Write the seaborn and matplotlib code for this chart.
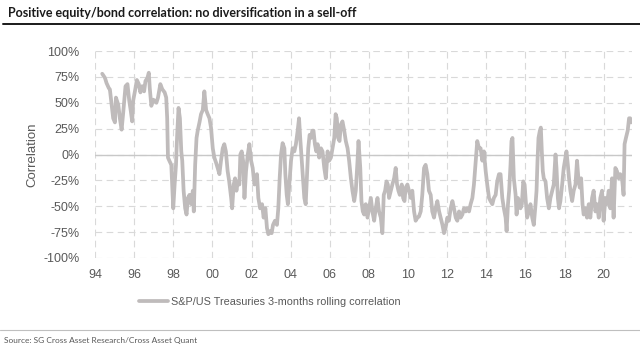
import seaborn as sns
import matplotlib.pyplot as plt
from matplotlib.lines import Line2D
from matplotlib.ticker import FuncFormatter
import numpy as np
import pandas as pd

# S&P / US Treasuries 3-month rolling correlation (%)
years_94_00 = [1994.37, 1994.51, 1994.59, 1994.71, 1994.76, 1994.85, 1994.93, 1995.02, 1995.07, 1995.19,
               1995.27, 1995.36, 1995.44, 1995.56, 1995.66, 1995.75, 1995.83, 1995.90, 1995.95, 1996.07,
               1996.14, 1996.24, 1996.32, 1996.41, 1996.51, 1996.58, 1996.68, 1996.75, 1996.80, 1996.88,
               1996.97, 1997.05, 1997.14, 1997.22, 1997.34, 1997.44, 1997.56, 1997.64, 1997.69, 1997.73,
               1997.80, 1997.90, 1997.95, 1998.00, 1998.07, 1998.14, 1998.20, 1998.27, 1998.34, 1998.41,
               1998.46, 1998.53, 1998.61, 1998.68, 1998.75, 1998.83, 1998.92, 1999.00, 1999.05, 1999.12,
               1999.19, 1999.25, 1999.34, 1999.42, 1999.51, 1999.59, 1999.68, 1999.76, 1999.85, 1999.93,
               2000.02, 2000.10, 2000.19, 2000.27, 2000.36, 2000.44, 2000.53, 2000.61, 2000.69, 2000.78,
               2000.86]
corr_94_00 = [78, 74, 69, 64, 63, 48, 35, 31, 55, 48,
              35, 24, 40, 66, 68, 52, 42, 32, 52, 64,
              72, 68, 60, 66, 61, 71, 74, 79, 64, 47,
              53, 52, 50, 55, 68, 63, 60, 55, 35, -3,
              -6, -10, -32, -52, -29, -10, 19, 45, 35, 3,
              -6, -35, -52, -58, -42, -39, -48, -35, -55, -10,
              16, 23, 31, 39, 43, 61, 43, 39, 35, 26,
              6, -3, -8, -13, -19, -6, 6, 10, 3, -16,
              -26]

years_01_07 = [2000.96, 2001.01, 2001.09, 2001.16, 2001.23, 2001.30, 2001.38, 2001.43, 2001.50, 2001.57,
               2001.64, 2001.72, 2001.81, 2001.89, 2001.98, 2002.06, 2002.15, 2002.23, 2002.28, 2002.35,
               2002.44, 2002.54, 2002.62, 2002.71, 2002.79, 2002.86, 2002.96, 2003.03, 2003.10, 2003.20,
               2003.30, 2003.37, 2003.44, 2003.51, 2003.59, 2003.68, 2003.73, 2003.80, 2003.86, 2003.93,
               2004.02, 2004.10, 2004.19, 2004.27, 2004.36, 2004.43, 2004.49, 2004.56, 2004.63, 2004.70,
               2004.77, 2004.83, 2004.90, 2004.97, 2005.04, 2005.11, 2005.17, 2005.24, 2005.31, 2005.38,
               2005.46, 2005.55, 2005.63, 2005.72, 2005.80, 2005.89, 2005.97, 2006.06, 2006.14, 2006.23,
               2006.30, 2006.36, 2006.43, 2006.50, 2006.57, 2006.65, 2006.74, 2006.82, 2006.91, 2006.99,
               2007.08, 2007.16, 2007.25, 2007.33, 2007.42, 2007.47, 2007.56, 2007.62, 2007.69]
corr_01_07 = [-42, -52, -29, -23, -35, -26, -29, 0, 3, -6,
              -42, -16, 0, 10, -6, -13, -29, -23, -19, -42,
              -52, -48, -61, -52, -71, -77, -74, -76, -68, -64,
              -68, -52, -23, 0, 11, 6, -19, -39, -48, -29,
              -6, 6, 3, 10, 23, 35, 16, -3, -23, -42,
              -48, -23, 6, 19, 16, 23, 23, 10, 3, 10,
              -3, 6, 3, -13, -23, 3, -6, -3, 6, 16,
              39, 35, 16, 13, 29, 32, 23, 13, 6, -6,
              -23, -35, -45, -35, -6, 13, -13, -45, -55]

years_08_14 = [2007.76, 2007.84, 2007.93, 2008.01, 2008.10, 2008.18, 2008.27, 2008.35, 2008.44, 2008.52,
               2008.61, 2008.69, 2008.76, 2008.83, 2008.90, 2008.97, 2009.03, 2009.12, 2009.20, 2009.29,
               2009.37, 2009.44, 2009.51, 2009.58, 2009.68, 2009.75, 2009.82, 2009.88, 2009.97, 2010.05,
               2010.14, 2010.22, 2010.31, 2010.39, 2010.48, 2010.56, 2010.65, 2010.73, 2010.82, 2010.90,
               2010.99, 2011.07, 2011.16, 2011.24, 2011.33, 2011.41, 2011.50, 2011.59, 2011.67, 2011.76,
               2011.84, 2011.92, 2012.01, 2012.09, 2012.18, 2012.27, 2012.35, 2012.44, 2012.52, 2012.61,
               2012.69, 2012.78, 2012.86, 2012.95, 2013.03, 2013.12, 2013.20, 2013.29, 2013.37, 2013.46,
               2013.54, 2013.63, 2013.71, 2013.80, 2013.88, 2013.97, 2014.05, 2014.14, 2014.22, 2014.31,
               2014.39, 2014.48, 2014.56, 2014.65]
corr_08_14 = [-58, -48, -61, -52, -42, -55, -64, -52, -42, -55,
              -61, -76, -39, -35, -26, -29, -42, -35, -29, -23,
              -13, -29, -35, -39, -29, -42, -45, -32, -29, -35,
              -42, -35, -55, -64, -61, -60, -55, -39, -13, -10,
              -19, -35, -39, -55, -61, -52, -45, -55, -61, -68,
              -76, -71, -61, -64, -52, -45, -52, -61, -64, -55,
              -61, -58, -52, -55, -52, -55, -48, -42, -29, -6,
              13, 6, 6, -6, 3, -16, -29, -42, -45, -48,
              -42, -39, -26, -19]

years_15_21 = [2014.73, 2014.82, 2014.90, 2014.99, 2015.04, 2015.11, 2015.17, 2015.24, 2015.29, 2015.34,
               2015.41, 2015.50, 2015.55, 2015.62, 2015.68, 2015.75, 2015.82, 2015.89, 2015.96, 2016.02,
               2016.09, 2016.18, 2016.26, 2016.35, 2016.43, 2016.52, 2016.57, 2016.62, 2016.67, 2016.74,
               2016.79, 2016.84, 2016.89, 2016.94, 2017.03, 2017.11, 2017.20, 2017.28, 2017.37, 2017.45,
               2017.54, 2017.59, 2017.66, 2017.72, 2017.79, 2017.88, 2017.96, 2018.05, 2018.10, 2018.17,
               2018.23, 2018.30, 2018.39, 2018.47, 2018.56, 2018.64, 2018.71, 2018.78, 2018.85, 2018.92,
               2018.98, 2019.07, 2019.15, 2019.24, 2019.32, 2019.41, 2019.49, 2019.58, 2019.66, 2019.75,
               2019.83, 2019.92, 2020.00, 2020.09, 2020.17, 2020.26, 2020.34, 2020.43, 2020.51, 2020.60,
               2020.68, 2020.77, 2020.85, 2020.94, 2021.02, 2021.07, 2021.14, 2021.23, 2021.30, 2021.36,
               2021.40]
corr_15_21 = [-19, -42, -52, -61, -74, -48, -35, -10, 13, 16,
              -23, -39, -58, -42, -45, -52, -48, -26, -29, -45,
              -61, -55, -48, -61, -68, -48, -35, -6, 16, 23,
              26, 3, -16, -23, -26, -42, -52, -42, -35, -29,
              0, -13, -42, -52, -45, -29, -13, -3, 3, -10,
              -23, -35, -45, -35, -29, -6, -23, -32, -23, -48,
              -58, -52, -61, -48, -61, -42, -35, -55, -48, -61,
              -42, -35, -64, -42, -48, -35, -52, -23, -61, -13,
              -16, -23, -19, -23, -39, 10, 16, 23, 35, 35,
              31]

series_label = "S&P/US Treasuries 3-months rolling correlation"
x_ticks = list(range(1994, 2021, 2))
x_labels = [f"{y % 100:02d}" for y in x_ticks]
y_ticks = list(range(-100, 101, 25))

df = pd.DataFrame({
    "year": years_94_00 + years_01_07 + years_08_14 + years_15_21,
    "corr": corr_94_00 + corr_01_07 + corr_08_14 + corr_15_21,
})

sns.set_theme(style="white")
plt.rcParams["font.family"] = ["Liberation Sans", "DejaVu Sans"]

fig = plt.figure(figsize=(6.4, 3.6), dpi=100)
ax = fig.add_axes([95 / 640, 1 - 258 / 360, 537 / 640, 207 / 360])

grey_txt = "#595959"
line_col = "#bfbbbb"
ax.set_xlim(1994, 2021.45)
ax.set_ylim(-100, 100)
ax.set_xticks(x_ticks)
ax.set_xticklabels(x_labels)
ax.set_yticks(y_ticks)
ax.yaxis.set_major_formatter(FuncFormatter(lambda v, _: f"{v:.0f}%"))
ax.grid(True, color="#d9d9d9", linestyle=(0, (6, 4)), linewidth=0.8)
ax.axhline(0, color="#c8c8c8", linewidth=1.0, zorder=1)
for s in ax.spines.values():
    s.set_visible(False)
ax.tick_params(axis="both", length=0, labelsize=9, labelcolor=grey_txt)
ax.tick_params(axis="y", pad=11)
ax.tick_params(axis="x", pad=8)

sns.lineplot(data=df, x="year", y="corr", ax=ax, color=line_col,
             linewidth=2.7, label=series_label, sort=False, estimator=None)
ax.set_xlabel("")
ax.set_ylabel("Correlation", fontsize=9.5, color=grey_txt, labelpad=4)

ax.get_legend().remove()
fig.legend(handles=[Line2D([], [], color=line_col, linewidth=2.7)], labels=[series_label],
           loc="center", bbox_to_anchor=(270 / 640, 1 - 302 / 360), frameon=False,
           fontsize=7.8, handlelength=2.6, handletextpad=0.3, labelcolor=grey_txt)

# title, rules and source
fig.text(8 / 640, 1 - 13 / 360, "Positive equity/bond correlation: no diversification in a sell-off",
         fontsize=9, fontweight="bold", color="#1a1a1a", va="center",
         family=["Lato", "Liberation Sans"])
fig.add_artist(Line2D([3 / 640, 1], [1 - 24 / 360] * 2, color="#1a1a1a", linewidth=1.4))
fig.add_artist(Line2D([0, 1], [1 - 330 / 360] * 2, color="#bfbfbf", linewidth=0.8))
fig.text(4 / 640, 1 - 341 / 360, "Source: SG Cross Asset Research/Cross Asset Quant",
         fontsize=6, color=grey_txt, va="center",
         family=["Lato", "Liberation Sans"])

fig.savefig("out.png", dpi=100)
